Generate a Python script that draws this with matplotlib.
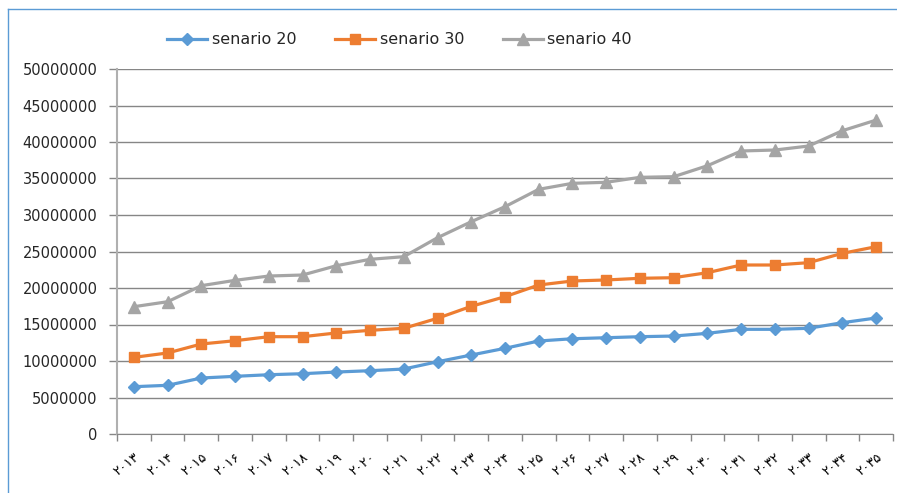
import matplotlib
matplotlib.use("Agg")
import matplotlib.pyplot as plt
from matplotlib.lines import Line2D

# years 2013..2035 written with Persian digits
years = ["۲۰۱۳", "۲۰۱۴", "۲۰۱۵", "۲۰۱۶", "۲۰۱۷", "۲۰۱۸", "۲۰۱۹", "۲۰۲۰",
         "۲۰۲۱", "۲۰۲۲", "۲۰۲۳", "۲۰۲۴", "۲۰۲۵", "۲۰۲۶", "۲۰۲۷", "۲۰۲۸",
         "۲۰۲۹", "۲۰۳۰", "۲۰۳۱", "۲۰۳۲", "۲۰۳۳", "۲۰۳۴", "۲۰۳۵"]

senario_20 = [6480000, 6670000, 7670000, 7900000, 8120000, 8260000, 8490000,
              8670000, 8900000, 9900000, 10820000, 11740000, 12740000, 13050000,
              13190000, 13330000, 13420000, 13790000, 14340000, 14340000,
              14480000, 15250000, 15890000]
senario_30 = [10500000, 11100000, 12330000, 12780000, 13330000, 13330000,
              13840000, 14200000, 14480000, 15850000, 17490000, 18810000,
              20410000, 20960000, 21100000, 21330000, 21410000, 22100000,
              23150000, 23150000, 23470000, 24750000, 25660000]
senario_40 = [17440000, 18120000, 20320000, 21050000, 21640000, 21780000,
              23050000, 23930000, 24290000, 26890000, 29080000, 31140000,
              33520000, 34340000, 34480000, 35160000, 35250000, 36750000,
              38770000, 38900000, 39450000, 41550000, 43000000]

series = [
    ("senario 20", senario_20, "#5B9BD5", "D", 6),
    ("senario 30", senario_30, "#ED7D31", "s", 7),
    ("senario 40", senario_40, "#A5A5A5", "^", 8),
]

fig = plt.figure(figsize=(8.97, 4.93), dpi=100)
ax = fig.add_axes([117 / 897, 1 - 434 / 493, (893 - 117) / 897, (434 - 69) / 493])

x = list(range(len(years)))
for name, vals, col, mk, ms in series:
    ax.plot(x, vals, color=col, lw=2.3, marker=mk, markersize=ms,
            markeredgecolor=col, label=name)

ax.set_xlim(-0.5, len(years) - 0.5)
ax.set_ylim(0, 50000000)
ax.set_yticks(range(0, 50000001, 5000000))
ax.set_yticklabels([str(v) for v in range(0, 50000001, 5000000)])
ax.yaxis.grid(True, color="#868686", lw=1)
ax.set_axisbelow(True)

ax.set_xticks(x)
ax.set_xticklabels(years, rotation=38, ha="right", rotation_mode="anchor",
                   family=["DejaVu Sans"], fontsize=9.5, color="black")
ax.set_xticks([i - 0.5 for i in range(len(years) + 1)], minor=True)
ax.tick_params(axis="x", which="major", length=0, pad=12)
ax.tick_params(axis="x", which="minor", length=5, color="#868686", width=1)
ax.tick_params(axis="y", length=6, color="#868686", width=1, labelsize=10.5,
               labelcolor="#262626", pad=8)

for side in ["top", "right"]:
    ax.spines[side].set_visible(False)
ax.spines["left"].set_color("#B0B0B0")
ax.spines["left"].set_linewidth(1.5)
ax.spines["bottom"].set_color("#868686")

leg = fig.legend(loc="center left", bbox_to_anchor=(153 / 897, 1 - 40 / 493),
                 ncol=3, frameon=False, fontsize=11.5, handlelength=2.5,
                 columnspacing=2.4, handletextpad=0.3)
for t in leg.get_texts():
    t.set_color("#262626")

# chart frame (only left and top edges fall inside the image)
fig.add_artist(Line2D([8 / 897, 8 / 897], [0, 1 - 9 / 493], color="#5B9BD5", lw=1,
                      transform=fig.transFigure))
fig.add_artist(Line2D([8 / 897, 1], [1 - 9 / 493, 1 - 9 / 493], color="#5B9BD5", lw=1,
                      transform=fig.transFigure))

fig.savefig("out.png", dpi=100)
